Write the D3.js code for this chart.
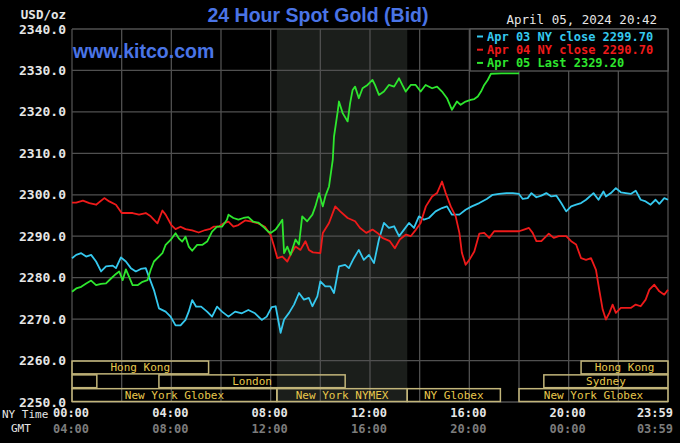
<!DOCTYPE html>
<html><head><meta charset="utf-8">
<script src="https://cdn.jsdelivr.net/npm/d3@7"></script>
<style>html,body{margin:0;padding:0;background:#000;}svg{display:block;}</style>
</head><body>
<script>
// ---- data ----
const title = "24 Hour Spot Gold (Bid)";
const siteLabel = "www.kitco.com";
const dateLabel = "April 05, 2024 20:42";
const unitLabel = "USD/oz";
const yTicks = [2250, 2260, 2270, 2280, 2290, 2300, 2310, 2320, 2330, 2340];
const xTickHours = [0, 4, 8, 12, 16, 20, 24];
const nyTimeLabels = ["00:00", "04:00", "08:00", "12:00", "16:00", "20:00", "23:59"];
const gmtLabels = ["04:00", "08:00", "12:00", "16:00", "20:00", "00:00", "03:59"];
const gridHours = [0, 2, 4, 6, 8, 10, 12, 14, 16, 18, 20, 22, 24];
const nymexShade = [8.25, 13.5];

const seriesNames = ["Apr 03 NY close 2299.70", "Apr 04 NY close 2290.70", "Apr 05 Last 2329.20"];

const apr03Hours = [0,0.17,0.37,0.57,0.77,0.97,1.17,1.37,1.64,1.77,1.97,2.17,2.37,2.57,2.77,2.97,3.1,3.3,3.5,3.77,3.97,4.17,4.37,4.57,4.7,4.84,5.0,5.2,5.44,5.64,5.84,6.04,6.3,6.57,6.84,7.1,7.37,7.64,7.84,8.04,8.2,8.4,8.54,8.74,8.94,9.14,9.34,9.54,9.68,9.88,10.0,10.2,10.4,10.55,10.75,11.0,11.15,11.35,11.55,11.75,11.96,12.16,12.36,12.56,12.76,12.97,13.17,13.37,13.57,13.77,13.97,14.17,14.37,14.64,14.9,15.1,15.3,15.6,15.85,16.1,16.4,16.7,16.94,17.2,17.5,17.75,18.0,18.15,18.35,18.5,18.7,18.9,19.1,19.3,19.5,19.7,19.9,20.1,20.3,20.5,20.7,21.0,21.2,21.4,21.5,21.7,21.9,22.1,22.3,22.5,22.7,22.9,23.1,23.3,23.5,23.65,23.85,24.0];
const apr03Values = [2284.7,2285.5,2285.9,2285.1,2285.5,2283.9,2281.5,2282.7,2282.9,2282.3,2284.9,2283.9,2282.3,2281.5,2282.1,2282.3,2280.2,2277.0,2272.6,2271.8,2270.6,2268.5,2268.5,2269.8,2271.8,2274.6,2273.0,2273.0,2271.8,2270.6,2273.0,2271.8,2270.6,2271.8,2271.4,2272.2,2271.4,2269.8,2270.6,2272.9,2273.1,2266.7,2269.9,2271.5,2273.5,2276.3,2274.7,2275.1,2273.1,2275.5,2279.1,2277.9,2277.9,2276.3,2282.7,2283.1,2282.3,2284.7,2286.7,2284.3,2285.5,2283.5,2289.2,2293.2,2292.0,2292.4,2290.0,2291.6,2293.2,2292.0,2294.8,2294.0,2294.4,2296.0,2296.8,2297.2,2295.2,2295.2,2296.4,2297.2,2298.0,2299.0,2300.0,2300.2,2300.4,2300.4,2300.2,2299.0,2299.2,2300.4,2299.4,2299.8,2300.4,2299.6,2299.8,2298.0,2296.0,2297.2,2297.6,2298.0,2298.8,2300.4,2298.8,2300.8,2299.6,2300.4,2301.6,2300.6,2300.4,2300.2,2301.0,2298.8,2298.4,2297.6,2298.8,2297.8,2299.2,2298.8];

const apr04Hours = [0,0.17,0.44,0.7,0.97,1.3,1.5,1.77,2.0,2.2,2.44,2.7,2.97,3.17,3.44,3.64,3.77,4.0,4.17,4.37,4.57,4.84,5.1,5.37,5.57,5.7,5.9,6.1,6.3,6.5,6.7,6.97,7.24,7.5,7.77,8.0,8.14,8.27,8.47,8.67,8.8,9.0,9.2,9.4,9.54,9.7,10.0,10.1,10.35,10.6,10.8,11.1,11.4,11.6,11.85,12.1,12.3,12.5,12.8,13.0,13.2,13.45,13.64,13.85,14.04,14.25,14.5,14.7,14.9,15.05,15.25,15.45,15.6,15.7,15.85,16.0,16.2,16.4,16.6,16.8,17.0,17.35,17.7,18.0,18.2,18.4,18.55,18.7,18.9,19.2,19.4,19.6,19.9,20.1,20.3,20.5,20.7,20.9,21.1,21.23,21.37,21.5,21.64,21.77,21.9,22.1,22.3,22.5,22.7,22.9,23.1,23.25,23.45,23.65,23.85,24.0];
const apr04Values = [2298.1,2298.1,2298.6,2298.0,2297.6,2299.2,2298.4,2297.6,2295.6,2295.6,2295.6,2295.2,2295.6,2294.8,2293.1,2296.2,2295.2,2292.7,2291.7,2292.3,2291.7,2291.4,2290.9,2291.5,2291.8,2292.3,2292.3,2293.1,2293.5,2292.3,2292.7,2293.8,2293.5,2293.1,2292.3,2290.3,2287.5,2284.7,2285.1,2283.9,2285.5,2287.5,2286.7,2288.8,2286.7,2286.1,2285.9,2290.8,2293.2,2297.2,2296.0,2294.4,2293.6,2292.0,2290.8,2291.6,2290.8,2289.6,2288.8,2287.1,2289.2,2290.4,2290.0,2291.6,2293.2,2297.2,2299.6,2300.4,2303.2,2300.4,2297.2,2294.8,2290.8,2286.0,2283.1,2284.3,2286.3,2290.6,2290.8,2289.6,2291.2,2291.2,2291.2,2291.2,2291.6,2292.0,2290.8,2288.8,2288.8,2290.6,2289.6,2290.0,2290.0,2288.8,2288.0,2284.7,2284.3,2284.7,2281.9,2277.1,2272.3,2269.9,2271.5,2273.5,2271.5,2272.7,2272.7,2272.7,2273.5,2273.1,2274.7,2277.1,2278.3,2276.7,2275.9,2277.1];

const apr05Hours = [0,0.17,0.37,0.57,0.77,0.97,1.17,1.37,1.57,1.77,1.9,2.04,2.17,2.3,2.44,2.64,2.84,3.04,3.17,3.3,3.5,3.64,3.77,3.97,4.17,4.3,4.44,4.57,4.7,4.84,5.04,5.24,5.44,5.64,5.84,6.04,6.24,6.3,6.5,6.7,6.9,7.1,7.3,7.5,7.7,7.9,8.0,8.2,8.34,8.47,8.54,8.67,8.8,9.0,9.14,9.27,9.47,9.68,9.8,9.95,10.1,10.2,10.35,10.5,10.55,10.7,10.75,10.9,11.1,11.2,11.3,11.4,11.55,11.7,11.9,12.1,12.2,12.36,12.56,12.76,12.97,13.17,13.3,13.44,13.64,13.84,14.04,14.24,14.5,14.7,14.9,15.1,15.3,15.5,15.65,15.85,16.05,16.2,16.34,16.47,16.6,16.74,16.87,17.3,18.0];
const apr05Values = [2276.6,2277.4,2277.8,2278.6,2279.3,2278.2,2278.5,2278.6,2279.8,2280.9,2281.5,2279.4,2282.0,2280.2,2278.2,2278.2,2279.0,2279.4,2281.9,2283.9,2285.1,2285.9,2287.9,2289.1,2290.7,2289.5,2288.7,2289.9,2287.5,2286.5,2287.9,2287.9,2288.7,2291.1,2292.3,2292.3,2294.0,2295.2,2294.4,2294.0,2294.4,2294.6,2293.5,2293.3,2292.3,2291.1,2290.8,2291.6,2292.8,2294.0,2285.9,2287.5,2285.5,2289.2,2288.0,2294.8,2293.6,2295.2,2297.2,2300.4,2297.2,2299.6,2302.0,2308.4,2314.0,2320.1,2322.5,2319.7,2317.7,2322.1,2325.3,2326.1,2323.3,2325.7,2326.5,2327.7,2326.5,2324.1,2324.9,2326.5,2326.1,2328.1,2326.5,2324.9,2326.5,2326.5,2324.9,2326.5,2325.7,2326.1,2324.9,2323.3,2320.5,2322.5,2321.7,2322.5,2322.9,2323.1,2323.7,2324.9,2326.5,2327.7,2329.2,2329.3,2329.3];

const sessionLabels = ["Hong Kong", "Hong Kong", "", "London", "Sydney", "New York Globex", "New York NYMEX", "NY Globex", "New York Globex"];
const sessionRows   = [0, 0, 1, 1, 1, 2, 2, 2, 2];
const sessionStarts = [0, 20.5, 0, 3.5, 19.0, 0, 8.25, 13.5, 18.0];
const sessionEnds   = [5.5, 24, 1.0, 11.0, 24, 8.25, 13.5, 17.25, 24];

// ---- drawing ----
const W = 680, H = 443;
const colors = ["#35c8ee", "#ee1a1a", "#2ee62e"];
const mono = "'DejaVu Sans Mono', monospace";

const svg = d3.select("body").append("svg").attr("width", W).attr("height", H);
svg.append("rect").attr("width", W).attr("height", H).attr("fill", "#000");

const x = d3.scaleLinear().domain([0, 24]).range([72, 668]);
const y = d3.scaleLinear().domain([2250, 2340]).range([402, 29]);

// NYMEX shade
svg.append("rect")
  .attr("x", x(nymexShade[0])).attr("y", y(2340))
  .attr("width", x(nymexShade[1]) - x(nymexShade[0]))
  .attr("height", y(2250) - y(2340))
  .attr("fill", "#1b1e1b");

// grid
const grid = svg.append("g").attr("stroke", "#505050").attr("stroke-width", 1.3);
grid.selectAll("line.h").data(yTicks).join("line")
  .attr("x1", x(0)).attr("x2", x(24)).attr("y1", d => y(d)).attr("y2", d => y(d));
grid.selectAll("line.v").data(gridHours).join("line")
  .attr("x1", d => x(d)).attr("x2", d => x(d)).attr("y1", y(2340)).attr("y2", y(2250));

// session bands
const rowH = (y(2250) - y(2260)) / 3;
const sessions = sessionLabels.map((l, i) => ({label: l, row: sessionRows[i], s: sessionStarts[i], e: sessionEnds[i]}));
const sg = svg.append("g");
sg.selectAll("rect").data(sessions).join("rect")
  .attr("x", d => x(d.s)).attr("y", d => y(2260) + d.row * rowH + 0.5)
  .attr("width", d => x(d.e) - x(d.s)).attr("height", rowH - 1)
  .attr("fill", "none").attr("stroke", "#c2b57a").attr("stroke-width", 1.5);
sg.selectAll("text").data(sessions).join("text")
  .attr("x", d => (x(d.s) + x(d.e)) / 2)
  .attr("y", d => y(2260) + (d.row + 1) * rowH - 3)
  .attr("text-anchor", "middle")
  .attr("font-family", mono).attr("font-size", "11px")
  .attr("fill", "#e8c84c")
  .text(d => d.label);

// series lines
const seriesData = [
  apr03Hours.map((h, i) => [h, apr03Values[i]]),
  apr04Hours.map((h, i) => [h, apr04Values[i]]),
  apr05Hours.map((h, i) => [h, apr05Values[i]])
];
const line = d3.line().x(d => x(d[0])).y(d => y(d[1]));
svg.append("g").selectAll("path").data(seriesData).join("path")
  .attr("d", line).attr("fill", "none")
  .attr("stroke", (d, i) => colors[i]).attr("stroke-width", 1.8)
  .attr("stroke-linejoin", "round");

// y axis labels
svg.append("g").selectAll("text").data(yTicks).join("text")
  .attr("x", 66).attr("y", d => y(d)).attr("dy", "0.35em")
  .attr("text-anchor", "end").attr("font-family", mono).attr("font-size", "13px")
  .attr("font-weight", "bold").attr("fill", "#e6e6e6")
  .text(d => d3.format(".1f")(d));
svg.append("text").attr("x", 66).attr("y", 19).attr("text-anchor", "end")
  .attr("font-family", mono).attr("font-size", "12.5px").attr("font-weight", "bold")
  .attr("fill", "#e6e6e6").text(unitLabel);

// x axis labels (last one kept inside the picture)
const lastIdx = xTickHours.length - 1;
const tickX = (d, i) => i === lastIdx ? W - 7 : x(d) - 1;
const tickAnchor = (d, i) => i === lastIdx ? "end" : "middle";
svg.append("g").selectAll("text").data(xTickHours).join("text")
  .attr("x", tickX).attr("y", 417).attr("text-anchor", tickAnchor)
  .attr("font-family", mono).attr("font-size", "12px").attr("font-weight", "bold")
  .attr("fill", "#e6e6e6").text((d, i) => nyTimeLabels[i]);
svg.append("g").selectAll("text").data(xTickHours).join("text")
  .attr("x", tickX).attr("y", 433).attr("text-anchor", tickAnchor)
  .attr("font-family", mono).attr("font-size", "12px").attr("font-weight", "bold")
  .attr("fill", "#7c7c7c").text((d, i) => gmtLabels[i]);
svg.append("text").attr("x", 2).attr("y", 418).attr("font-family", mono)
  .attr("font-size", "11px").attr("fill", "#e6e6e6").text("NY Time");
svg.append("text").attr("x", 11).attr("y", 432).attr("font-family", mono)
  .attr("font-size", "11px").attr("fill", "#e6e6e6").text("GMT");

// title & site
svg.append("text").attr("x", 318).attr("y", 22).attr("text-anchor", "middle")
  .attr("font-family", "'Liberation Sans', Arial, sans-serif").attr("font-size", "19.5px")
  .attr("font-weight", "bold").attr("fill", "#4a74e6").text(title);
svg.append("text").attr("x", 73).attr("y", 58)
  .attr("font-family", "'Liberation Sans', Arial, sans-serif").attr("font-size", "19.5px")
  .attr("font-weight", "bold").attr("fill", "#4a74e6").text(siteLabel);
svg.append("text").attr("x", 657).attr("y", 24).attr("text-anchor", "end")
  .attr("font-family", mono).attr("font-size", "12.5px")
  .attr("fill", "#e6e6e6").text(dateLabel);

// legend
const lg = svg.append("g");
lg.append("rect").attr("x", 470).attr("y", y(2340)).attr("width", 198).attr("height", 42)
  .attr("fill", "#000").attr("stroke", "#5a5a5a").attr("stroke-width", 1.3);
seriesNames.forEach((name, i) => {
  const cy = 36.5 + i * 13.2;
  lg.append("line").attr("x1", 477).attr("x2", 483).attr("y1", cy).attr("y2", cy)
    .attr("stroke", colors[i]).attr("stroke-width", 2);
  lg.append("text").attr("x", 487).attr("y", cy).attr("dy", "0.35em")
    .attr("font-family", mono).attr("font-size", "12px").attr("font-weight", "bold")
    .attr("fill", colors[i]).text(name);
});
</script>
</body></html>
